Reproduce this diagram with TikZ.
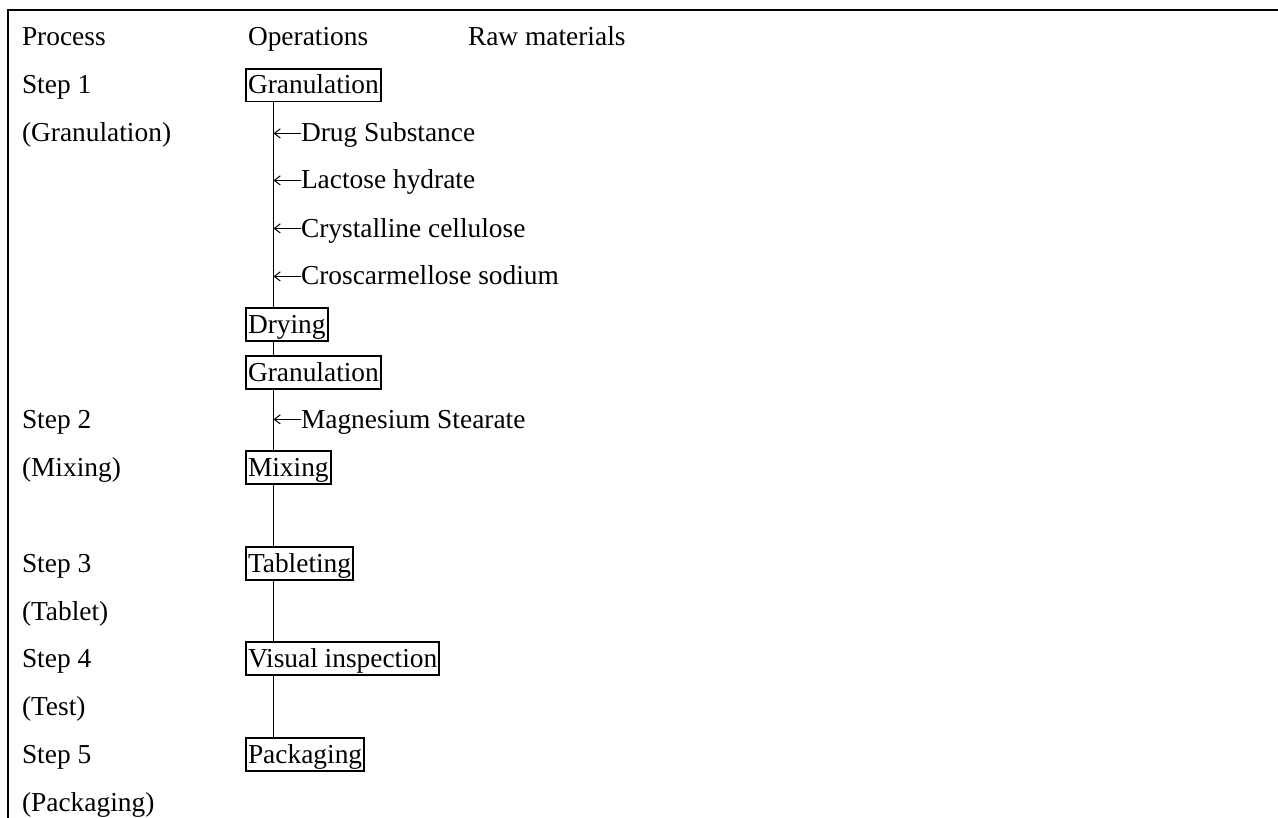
\documentclass[tikz,border=0pt]{standalone}
\usepackage{fontspec}
\setmainfont{Liberation Serif}
\usepackage{tikz}
\usetikzlibrary{arrows.meta, positioning, calc}
\tikzset{
  lbl/.style={anchor=base west, inner sep=0pt, outer sep=0pt,
    font=\fontsize{13.7}{16}\selectfont},
  opbox/.style={lbl, draw, line width=0.9pt, inner xsep=1pt, inner ysep=0.6pt,
    text height=12pt, text depth=3.2pt},
  rawitem/.style={lbl},
  feed/.style={-{Straight Barb[length=3pt,width=4.6pt]}, line width=0.5pt},
  spineline/.style={line width=0.6pt},
  frameline/.style={line width=1pt}
}

\begin{document}
\begin{tikzpicture}[x=0.5pt, y=-0.5pt]
  \useasboundingbox (0,0) rectangle (1278,818);

  % Frame
  \draw[frameline] (8,818) -- (8,10) -- (1280,10);

  % Header
  \node[lbl] (hproc) at (22,46) {Process};
  \node[lbl] (hops) at (248,46) {Operations};
  \node[lbl] (hraw) at (468,46) {Raw materials};

  % Process column
  \node[lbl] (s1) at (22,94) {Step 1};
  \node[lbl] (s1n) at (22,142) {(Granulation)};
  \node[lbl] (s2) at (22,428) {Step 2};
  \node[lbl] (s2n) at (22,476) {(Mixing)};
  \node[lbl] (s3) at (22,572) {Step 3};
  \node[lbl] (s3n) at (22,620) {(Tablet)};
  \node[lbl] (s4) at (22,667) {Step 4};
  \node[lbl] (s4n) at (22,715) {(Test)};
  \node[lbl] (s5) at (22,763) {Step 5};
  \node[lbl] (s5n) at (22,811) {(Packaging)};

  % Operations
  \node[opbox] (gran) at (246,94) {Granulation};
  \node[opbox] (dry) at (246,333) {Drying};
  \node[opbox] (gran2) at (246,381) {Granulation};
  \node[opbox] (mix) at (246,476) {Mixing};
  \node[opbox] (tab) at (246,572) {Tableting};
  \node[opbox] (insp) at (246,667) {Visual inspection};
  \node[opbox] (pack) at (246,763) {Packaging};

  % Spine
  \coordinate (spine) at (273.5,0);
  \draw[spineline] (gran.south -| spine) -- (dry.north -| spine);
  \draw[spineline] (dry.south -| spine) -- (gran2.north -| spine);
  \draw[spineline] (gran2.south -| spine) -- (mix.north -| spine);
  \draw[spineline] (mix.south -| spine) -- (tab.north -| spine);
  \draw[spineline] (tab.south -| spine) -- (insp.north -| spine);
  \draw[spineline] (insp.south -| spine) -- (pack.north -| spine);

  % Raw materials
  \node[rawitem] (drug) at (301,142) {Drug Substance};
  \node[rawitem] (lact) at (301,189) {Lactose hydrate};
  \node[rawitem] (cell) at (301,237) {Crystalline cellulose};
  \node[rawitem] (cros) at (301,285) {Croscarmellose sodium};
  \node[rawitem] (mgst) at (301,428) {Magnesium Stearate};

  \foreach \n in {drug, lact, cell, cros, mgst}
    \draw[feed] ([yshift=4.3pt]\n.base west) -- ([yshift=4.3pt]\n.base west -| spine);
\end{tikzpicture}
\end{document}
